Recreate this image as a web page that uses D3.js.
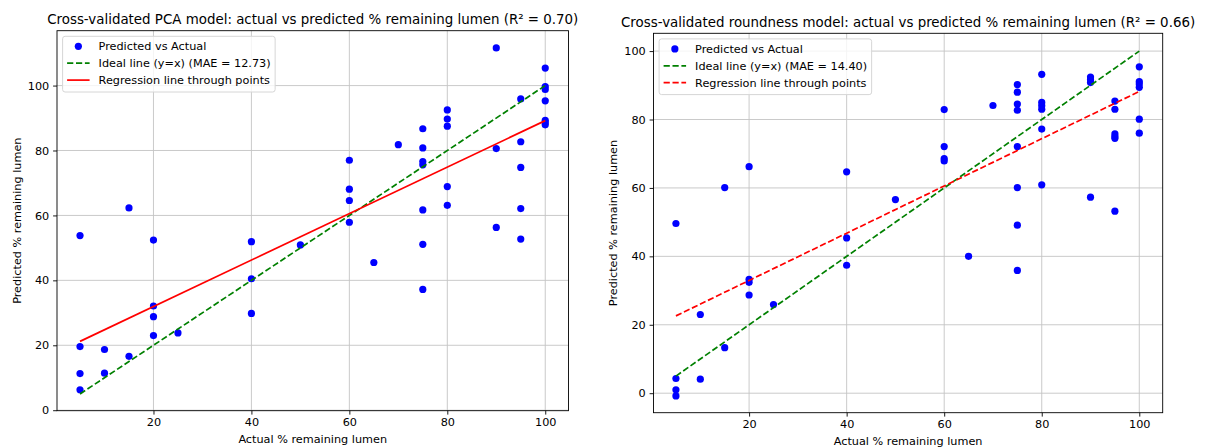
<!DOCTYPE html>
<html>
<head>
<meta charset="utf-8">
<script src="https://cdn.jsdelivr.net/npm/d3@7"></script>
<style>
  body { margin: 0; background: #fff; }
  svg { display: block; }
  text { font-family: "DejaVu Sans", sans-serif; }
</style>
</head>
<body>
<div id="chart"></div>
<script>
// ticks shared by both panels
var xTicks = [20, 40, 60, 80, 100];
var yTicks = [0, 20, 40, 60, 80, 100];

// end points of the fitted lines (x = 5 and x = 100)
var lineX = [5, 100];

// PCA model: actual vs predicted
var pcaActual = [5, 5, 5, 5, 10, 10, 15, 15, 20, 20, 20, 20, 25, 40, 40, 40, 50,
  60, 60, 60, 60, 65, 70, 75, 75, 75, 75, 75, 75, 75, 80, 80, 80, 80, 80,
  90, 90, 90, 95, 95, 95, 95, 95, 100, 100, 100, 100, 100, 100, 100];
var pcaPredicted = [53.8, 19.6, 11.3, 6.3, 18.7, 11.4, 62.3, 16.6, 52.4, 32.1, 28.8, 23.0, 23.8, 51.9, 40.5, 29.8, 50.9,
  77.0, 68.1, 64.6, 57.9, 45.5, 81.8, 86.7, 80.8, 76.6, 75.6, 61.7, 51.1, 37.2, 92.5, 89.7, 87.5, 68.9, 63.1,
  111.6, 80.6, 56.3, 95.9, 82.7, 74.8, 62.1, 52.7, 105.4, 99.7, 98.8, 95.3, 89.3, 88.6, 87.9];
var pcaRegression = [21.2, 89.2];
var pcaLegend = ["Predicted vs Actual", "Ideal line (y=x) (MAE = 12.73)", "Regression line through points"];

// roundness model: actual vs predicted
var roundActual = [5, 5, 5, 5, 10, 10, 15, 15, 20, 20, 20, 20, 25, 40, 40, 40, 50,
  60, 60, 60, 60, 65, 70, 75, 75, 75, 75, 75, 75, 75, 75, 80, 80, 80, 80, 80, 80,
  90, 90, 90, 90, 95, 95, 95, 95, 95, 95, 100, 100, 100, 100, 100, 100];
var roundPredicted = [49.6, 4.3, 1.0, -0.8, 23.0, 4.1, 60.1, 13.3, 66.2, 33.3, 32.4, 28.7, 25.9, 64.7, 45.4, 37.4, 56.6,
  82.9, 72.1, 68.6, 67.9, 40.0, 84.1, 90.2, 88.0, 84.5, 82.7, 72.1, 60.1, 49.1, 35.9, 93.2, 85.0, 84.0, 83.0, 77.2, 60.9,
  92.4, 91.6, 90.8, 57.3, 85.4, 83.0, 75.8, 75.0, 74.5, 53.2, 95.4, 91.1, 90.4, 89.4, 80.1, 76.0];
var roundRegression = [22.6, 88.2];
var roundLegend = ["Predicted vs Actual", "Ideal line (y=x) (MAE = 14.40)", "Regression line through points"];

var width = 1207;
var height = 447;
var fontSize = 11.25;
var titleSize = 13.4;
var tickLen = 3.9;
var tickPad = 3.9;
var lineW = 1.7;
var dash = "6.2,2.7";
var dotR = 3.6;
var colorDot = "blue";
var colorIdeal = "green";
var colorReg = "red";
var colorGrid = "#c4c4c4";

var panels = [
  {
    frame: { x0: 57, x1: 568.5, y0: 30.7, y1: 410.7 },
    xDomain: [0.3, 104.75], yDomain: [-0.15, 116.9],
    title: "Cross-validated PCA model: actual vs predicted % remaining lumen (R\u00b2 = 0.70)",
    actual: pcaActual, predicted: pcaPredicted, reg: pcaRegression, regDashed: false, legend: pcaLegend
  },
  {
    frame: { x0: 653.5, x1: 1162.7, y0: 33.3, y1: 412.7 },
    xDomain: [0.4, 104.8], yDomain: [-5.7, 105.2],
    title: "Cross-validated roundness model: actual vs predicted % remaining lumen (R\u00b2 = 0.66)",
    actual: roundActual, predicted: roundPredicted, reg: roundRegression, regDashed: true, legend: roundLegend
  }
];

var svg = d3.select("#chart")
  .append("svg")
  .attr("width", width)
  .attr("height", height);

panels.forEach(function(p) {
  var f = p.frame;
  var x = d3.scaleLinear().domain(p.xDomain).range([f.x0, f.x1]);
  var y = d3.scaleLinear().domain(p.yDomain).range([f.y1, f.y0]);

  var g = svg.append("g");

  //grid
  g.selectAll(".gx")
    .data(xTicks)
    .enter()
    .append("line")
    .attr("x1", d => x(d)).attr("x2", d => x(d))
    .attr("y1", f.y0).attr("y2", f.y1)
    .style("stroke", colorGrid).style("stroke-width", 0.9);

  g.selectAll(".gy")
    .data(yTicks)
    .enter()
    .append("line")
    .attr("x1", f.x0).attr("x2", f.x1)
    .attr("y1", d => y(d)).attr("y2", d => y(d))
    .style("stroke", colorGrid).style("stroke-width", 0.9);

  //points
  g.selectAll(".dot")
    .data(p.actual)
    .enter()
    .append("circle")
    .attr("cx", d => x(d))
    .attr("cy", (d, i) => y(p.predicted[i]))
    .attr("r", dotR)
    .style("fill", colorDot);

  //ideal line y = x
  var line = d3.line().x(d => x(d[0])).y(d => y(d[1]));
  g.append("path")
    .attr("d", line(lineX.map(v => [v, v])))
    .style("fill", "none")
    .style("stroke", colorIdeal)
    .style("stroke-width", lineW)
    .style("stroke-dasharray", dash);

  //regression line
  g.append("path")
    .attr("d", line(lineX.map((v, i) => [v, p.reg[i]])))
    .style("fill", "none")
    .style("stroke", colorReg)
    .style("stroke-width", lineW)
    .style("stroke-dasharray", p.regDashed ? dash : null);

  //frame
  g.append("rect")
    .attr("x", f.x0).attr("y", f.y0)
    .attr("width", f.x1 - f.x0).attr("height", f.y1 - f.y0)
    .style("fill", "none").style("stroke", "#000").style("stroke-width", 0.9);

  //axes
  var xAxis = g.append("g")
    .attr("transform", "translate(0," + f.y1 + ")")
    .call(d3.axisBottom(x).tickValues(xTicks).tickSize(tickLen).tickPadding(tickPad).tickFormat(d3.format("d")));
  var yAxis = g.append("g")
    .attr("transform", "translate(" + f.x0 + ",0)")
    .call(d3.axisLeft(y).tickValues(yTicks).tickSize(tickLen).tickPadding(tickPad).tickFormat(d3.format("d")));

  [xAxis, yAxis].forEach(function(a) {
    a.select(".domain").remove();
    a.attr("font-size", fontSize).attr("font-family", "DejaVu Sans");
    a.selectAll("line").style("stroke", "#000").style("stroke-width", 0.9);
    a.selectAll("text").style("fill", "#000");
  });

  //labels
  g.append("text")
    .attr("x", (f.x0 + f.x1) / 2)
    .attr("y", f.y1 + 32)
    .attr("text-anchor", "middle")
    .style("font-size", fontSize)
    .text("Actual % remaining lumen");

  var yb = yAxis.node().getBBox();
  var ylx = f.x0 + yb.x - 4.5 - 2.7;
  g.append("text")
    .attr("transform", "translate(" + ylx + "," + ((f.y0 + f.y1) / 2) + ") rotate(-90)")
    .attr("text-anchor", "middle")
    .style("font-size", fontSize)
    .text("Predicted % remaining lumen");

  g.append("text")
    .attr("x", (f.x0 + f.x1) / 2)
    .attr("y", f.y0 - 6.75)
    .attr("text-anchor", "middle")
    .style("font-size", titleSize)
    .text(p.title);

  //legend
  var lx = f.x0 + 5.6;
  var ly = f.y0 + 5.6;
  var rowH = 16.9;
  var leg = g.append("g");
  var box = leg.append("rect")
    .attr("x", lx).attr("y", ly)
    .attr("rx", 2.5).attr("ry", 2.5)
    .style("fill", "rgba(255,255,255,0.8)")
    .style("stroke", "#d6d6d6")
    .style("stroke-width", 1);

  var hx0 = lx + 4.5;
  var hx1 = hx0 + 22.5;
  var tx = hx1 + 9;
  var maxW = 0;
  p.legend.forEach(function(label, i) {
    var cy = ly + 10 + i * rowH;
    if (i === 0) {
      leg.append("circle")
        .attr("cx", (hx0 + hx1) / 2).attr("cy", cy).attr("r", dotR)
        .style("fill", colorDot);
    } else {
      leg.append("line")
        .attr("x1", hx0).attr("x2", hx1)
        .attr("y1", cy).attr("y2", cy)
        .style("stroke", i === 1 ? colorIdeal : colorReg)
        .style("stroke-width", lineW)
        .style("stroke-dasharray", (i === 1 || p.regDashed) ? dash : null);
    }
    var t = leg.append("text")
      .attr("x", tx).attr("y", cy + 4)
      .style("font-size", fontSize)
      .text(label);
    maxW = Math.max(maxW, t.node().getComputedTextLength());
  });

  box.attr("width", tx + maxW + 4.5 - lx)
    .attr("height", 55.7);
});
</script>
</body>
</html>
